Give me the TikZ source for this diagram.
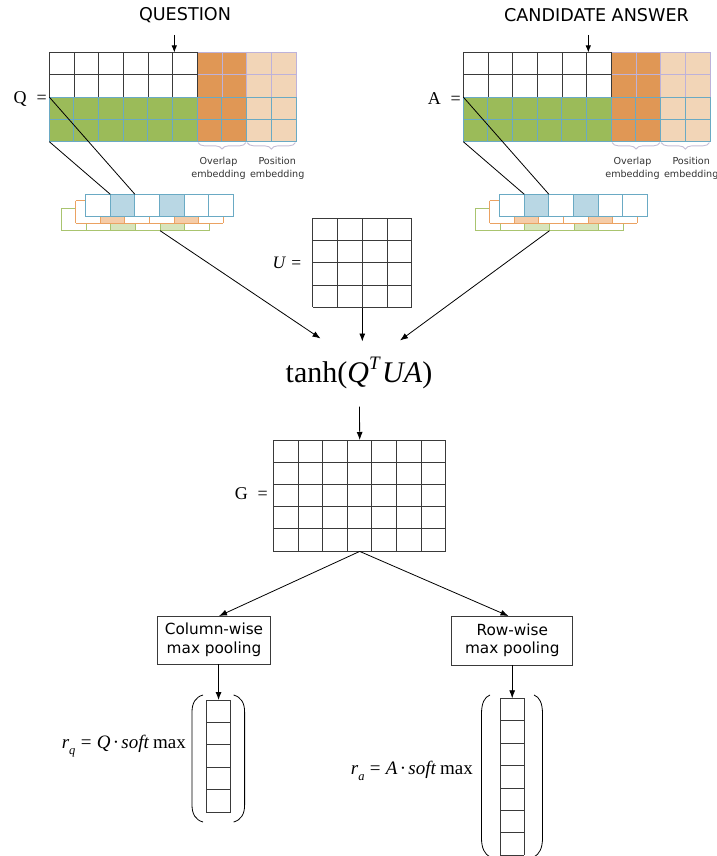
\documentclass[tikz,border=0pt]{standalone}
\usepackage{fontspec}
\setmainfont{Liberation Serif}
\newfontfamily\sansf{DejaVu Sans}
\usetikzlibrary{arrows.meta,decorations.pathreplacing,calc}
\definecolor{gridk}{HTML}{3A3A3A}
\definecolor{qgreen}{HTML}{9BBB59}
\definecolor{qorange}{HTML}{E09755}
\definecolor{qbeige}{HTML}{F2D5B7}
\definecolor{qteal}{HTML}{6AAAC4}
\definecolor{qlav}{HTML}{BDB2DA}
\definecolor{fblue}{HTML}{B9D7E4}
\definecolor{lorange}{HTML}{EBA262}
\definecolor{lpeach}{HTML}{F5CCA8}
\definecolor{lgreen}{HTML}{A9C46F}
\definecolor{lgreenf}{HTML}{D7E4BC}
\definecolor{bracec}{HTML}{C5BED6}
\definecolor{lblc}{HTML}{333333}

% grid of lines: #1 style, #2 x0, #3 y0, #4 cols, #5 rows, #6 cell w, #7 cell h
\newcommand\mgrid[7]{%
  \foreach \i in {0,...,#4} \draw[#1] ({#2+\i*#6},#3) -- ({#2+\i*#6},{#3+#5*#7});
  \foreach \j in {0,...,#5} \draw[#1] (#2,{#3+\j*#7}) -- ({#2+#4*#6},{#3+\j*#7});
}
% feature-map layer: #1 x0, #2 y0, #3 border, #4 shade, #5 idx, #6 idx
\newcommand\fmlayer[6]{%
  \fill[white] (#1,#2) rectangle ({#1+6*24.6},{#2+22.4});
  \fill[#4] ({#1+#5*24.6},#2) rectangle ({#1+(#5+1)*24.6},{#2+22.4});
  \fill[#4] ({#1+#6*24.6},#2) rectangle ({#1+(#6+1)*24.6},{#2+22.4});
  \mgrid{draw=#3,line width=1pt}{#1}{#2}{6}{1}{24.6}{22.4}
}
% embedding block: #1 x offset, #2 name prefix, #3 matrix letter
\newcommand\embblock[3]{%
\begin{scope}[shift={(#1,0)}]
  \fill[white] (49.3,52.5) rectangle (197.3,97.1);
  \fill[qgreen] (49.3,97.1) rectangle (197.3,141.7);
  \fill[qorange] (197.3,52.5) rectangle (246.6,141.7);
  \fill[qbeige] (246.6,52.5) rectangle (296,141.7);
  \mgrid{lavline}{197.3}{52.5}{4}{2}{24.67}{22.3}
  \mgrid{darkline}{49.3}{52.5}{6}{2}{24.67}{22.3}
  \mgrid{tealline}{49.3}{97.1}{10}{2}{24.67}{22.3}
  \node[eqlbl, anchor=east] (#2lbl) at (47,99) {#3\hspace{0.55em}=};
  \draw[bracestyle] (246.0,142.6) -- (198.0,142.6);
  \draw[bracestyle] (295.4,142.6) -- (247.2,142.6);
  \node[smalllbl] (#2ovl) at (218.5,168.5) {Overlap\\embedding};
  \node[smalllbl] (#2pos) at (277.2,168.5) {Position\\embedding};
  \coordinate (#2in) at (174.3,35);
  \coordinate (#2top) at (174.3,52.5);
  \draw[toparr] (#2in) -- (#2top);
  \coordinate (#2gtl) at (49.3,97.1);
  \coordinate (#2gbl) at (49.3,141.7);
  % stacked feature maps
  \fmlayer{61.7}{208.3}{lgreen}{lgreenf}{2}{4}
  \fmlayer{75.7}{200.6}{lorange}{lpeach}{1}{4}
  \fmlayer{85.7}{194.3}{qteal}{fblue}{1}{3}
  \coordinate (#2fa) at (110.3,194.3);
  \coordinate (#2fb) at (134.9,194.3);
  \draw[thinline] (#2gtl) -- (#2fb);
  \draw[thinline] (#2gbl) -- (#2fa);
  \coordinate (#2sq) at (160.1,230.7);
  \coordinate (#2sa) at (135.5,230.7);
\end{scope}
}

\begin{document}
\begin{tikzpicture}[x=1pt,y=-1pt,
  darkline/.style={draw=gridk, line width=0.8pt},
  lavline/.style={draw=qlav, line width=0.9pt},
  tealline/.style={draw=qteal, line width=1pt},
  thinline/.style={draw=black, line width=0.8pt},
  conn/.style={draw=black, line width=0.8pt, -{Latex[length=8pt,width=6pt]}},
  toparr/.style={draw=black, line width=0.9pt, -{Latex[length=7pt,width=5.5pt]}},
  bracestyle/.style={draw=bracec, line width=0.9pt, decorate, decoration={brace, amplitude=6.5pt}},
  eqlbl/.style={inner sep=0pt, font=\fontsize{18}{20}\selectfont},
  smalllbl/.style={inner sep=0pt, align=center, text=lblc, font=\sansf\fontsize{9.6}{12.8}\selectfont},
  headlbl/.style={inner sep=0pt, text=black, font=\sansf\fontsize{17.6}{20}\selectfont},
  poolbox/.style={draw=gridk, line width=0.8pt, fill=white, align=center, inner sep=2pt,
                  font=\sansf\fontsize{15.3}{18.5}\selectfont},
  mathlbl/.style={inner sep=0pt, font=\fontsize{19}{22}\selectfont},
  paren/.style={draw=black, line width=0.8pt}
]
\useasboundingbox (0,0) rectangle (716,856);
\fill[white] (0,0) rectangle (716,856);

% headings
\node[headlbl] (qhead) at (185,15) {QUESTION};
\node[headlbl] (ahead) at (596.5,15) {CANDIDATE ANSWER};

% Q and A blocks
\embblock{0}{Q}{Q}
\embblock{414}{A}{A}

% U matrix
\node[inner sep=0pt, minimum width=99pt, minimum height=89pt, anchor=north west] (U) at (312.7,218.3) {};
\mgrid{darkline}{312.7}{218.3}{4}{4}{24.75}{22.25}
\node[mathlbl, anchor=east, font=\fontsize{17.5}{20}\selectfont] (Ulbl) at (301.5,263) {\textit{U}\hspace{0.3em}=};

% tanh
\node[inner sep=0pt, font=\fontsize{30}{34}\selectfont] (tanh) at (359,373)
  {tanh(\textit{Q}\raisebox{0.42em}{\fontsize{19}{20}\selectfont\textit{T}}\hspace{0.05em}\textit{UA})};
\coordinate (tL) at (320.5,338.5);
\coordinate (tU) at (362.3,341.5);
\coordinate (tR) at (400,340.5);
\coordinate (tB) at (359.5,406.5);
\draw[conn] (Qsq) -- (tL);
\draw[conn] (U.south -| tU) -- (tU);
\draw[conn] (Asa) -- (tR);

% G matrix
\node[inner sep=0pt, minimum width=172.4pt, minimum height=111pt, anchor=north west] (G) at (273.3,440) {};
\mgrid{darkline}{273.3}{440}{7}{5}{24.63}{22.2}
\node[eqlbl, anchor=east] (Glbl) at (268,493.5) {G\hspace{0.55em}=};
\draw[conn] (tB) -- (G.north);

% pooling boxes
\node[poolbox, minimum width=113.4pt, minimum height=48pt] (colbox) at (214,640) {Column-wise\\max pooling};
\node[poolbox, minimum width=121pt, minimum height=49pt] (rowbox) at (512.3,640.5) {Row-wise\\max pooling};
\coordinate (colin) at (219,616);
\coordinate (rowin) at (508.5,616);
\draw[conn] (G.south) -- (colin);
\draw[conn] (G.south) -- (rowin);

% q vector
\node[inner sep=0pt, minimum width=24.7pt, minimum height=112pt, anchor=north west] (qvec) at (206,700) {};
\mgrid{darkline}{206}{700}{1}{5}{24.7}{22.4}
\draw[conn] (colbox.south -| qvec.north) -- (qvec.north);
\draw[paren] (203,695) .. controls (195.5,697) and (192,703) .. (192,712) -- (192,805)
   .. controls (192,814) and (195.5,820) .. (203,822);
\draw[paren] (233.6,695) .. controls (241.1,697) and (244.6,703) .. (244.6,712) -- (244.6,805)
   .. controls (244.6,814) and (241.1,820) .. (233.6,822);
\node[mathlbl, anchor=east] (rq) at (186,746)
  {\textit{r}\raisebox{-0.3em}{\fontsize{12.5}{14}\selectfont\textit{q}}\hspace{0.28em}=\hspace{0.28em}\textit{Q}\hspace{0.12em}·\hspace{0.12em}\textit{soft}\hspace{0.2em}max};

% a vector
\node[inner sep=0pt, minimum width=24pt, minimum height=156.8pt, anchor=north west] (avec) at (500,698.3) {};
\mgrid{darkline}{500}{698.3}{1}{7}{24}{22.4}
\draw[conn] (rowbox.south -| avec.north) -- (avec.north);
\draw[paren] (490,695) .. controls (484.5,697) and (481.5,703) .. (481.5,714) -- (481.5,838)
   .. controls (481.5,848) and (484.5,854) .. (490,857);
\draw[paren] (534,695) .. controls (539.5,697) and (542.5,703) .. (542.5,714) -- (542.5,838)
   .. controls (542.5,848) and (539.5,854) .. (534,857);
\node[mathlbl, anchor=east] (ra) at (473,771)
  {\textit{r}\raisebox{-0.3em}{\fontsize{12.5}{14}\selectfont\textit{a}}\hspace{0.28em}=\hspace{0.28em}\textit{A}\hspace{0.12em}·\hspace{0.12em}\textit{soft}\hspace{0.2em}max};
\end{tikzpicture}
\end{document}
